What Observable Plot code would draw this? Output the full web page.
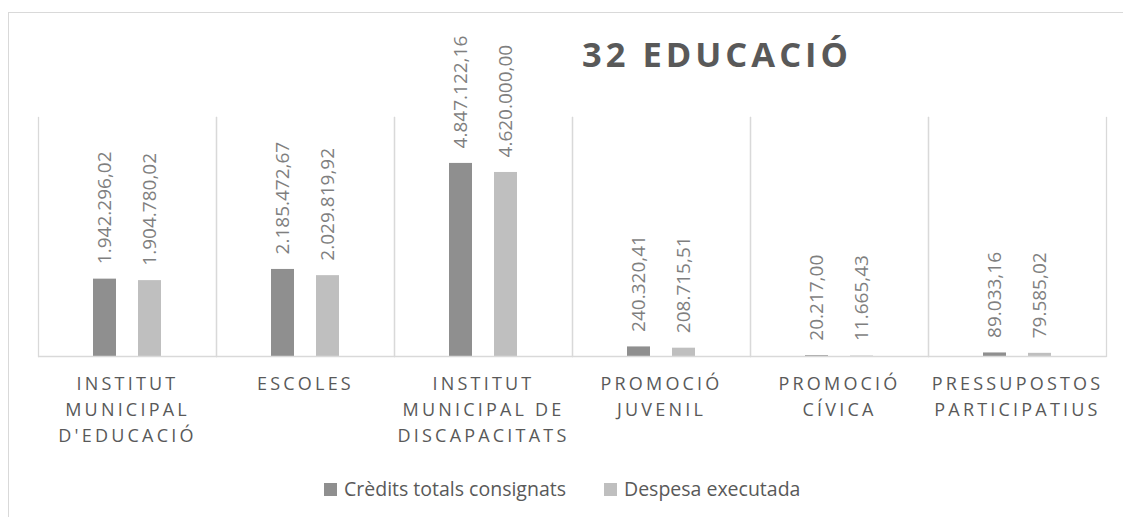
<!DOCTYPE html>
<html>
<head>
<meta charset="utf-8">
<script src="https://cdn.jsdelivr.net/npm/d3@7"></script>
<script src="https://cdn.jsdelivr.net/npm/@observablehq/plot@0.6"></script>
<style>
  html, body { margin: 0; padding: 0; background: #fff; overflow: hidden; }
  body { width: 1123px; height: 517px; position: relative; font-family: "Open Sans", sans-serif; }
  #frameTop { position: absolute; left: 8px; top: 12px; width: 1115px; height: 0;
              border-top: 1.3px solid #d9d9d9; }
  #frameLeft { position: absolute; left: 8px; top: 12px; width: 0; height: 505px;
               border-left: 1.3px solid #d9d9d9; }
  #cover { position: absolute; left: 1110px; top: 14px; width: 13px; height: 503px;
           background: #fff; z-index: 10; }
  #title { position: absolute; left: 582px; top: 37px; font-size: 34.5px; line-height: 1;
           font-weight: 700; letter-spacing: 4px; color: #595959; white-space: nowrap; }
  #chart { position: absolute; left: 0; top: 0; }
  #legend { position: absolute; left: 324px; top: 479px; display: flex; align-items: center;
            gap: 38px; font-size: 19.5px; line-height: 20px; color: #595959; white-space: nowrap; }
  #legend .item { display: flex; align-items: center; gap: 7px; }
  #legend .sw { width: 13px; height: 13px; display: inline-block; }
</style>
</head>
<body>
<div id="frameTop"></div>
<div id="frameLeft"></div>
<div id="title"></div>
<div id="chart"></div>
<div id="legend"></div>
<div id="cover"></div>
<script>
// ---- data ----
const titleText = "32 EDUCACIÓ";
const categories = ["Institut Municipal d'Educació", "Escoles", "Institut Municipal de Discapacitats",
                    "Promoció Juvenil", "Promoció Cívica", "Pressupostos Participatius"];
const tickLabels = ["INSTITUT\nMUNICIPAL\nD'EDUCACIÓ", "ESCOLES", "INSTITUT\nMUNICIPAL DE\nDISCAPACITATS",
                    "PROMOCIÓ\nJUVENIL", "PROMOCIÓ\nCÍVICA", "PRESSUPOSTOS\nPARTICIPATIUS"];
const seriesNames = ["Crèdits totals consignats", "Despesa executada"];
const credits = [1942296.02, 2185472.67, 4847122.16, 240320.41, 20217.00, 89033.16];
const spent   = [1904780.02, 2029819.92, 4620000.00, 208715.51, 11665.43, 79585.02];
const seriesColors = ["#8f8f8f", "#bfbfbf"];

const table = categories.flatMap((c, i) => [
  {cat: c, series: seriesNames[0], value: credits[i]},
  {cat: c, series: seriesNames[1], value: spent[i]}
]);

const fmt = d3.formatLocale({decimal: ",", thousands: ".", grouping: [3], currency: ["", ""]}).format(",.2f");

document.getElementById("title").textContent = titleText;

const plot = Plot.plot({
  width: 1123,
  height: 460,
  marginTop: 117,
  marginBottom: 104,
  marginLeft: 37,
  marginRight: 16,
  style: {fontFamily: "'Open Sans', sans-serif", background: "transparent", overflow: "visible"},
  fx: {domain: categories, paddingInner: 0, paddingOuter: 0, label: null},
  x: {domain: seriesNames, paddingInner: 0.4783, paddingOuter: 1.177, axis: null},
  y: {domain: [0, 6000000], axis: null},
  color: {domain: seriesNames, range: seriesColors},
  marks: [
    Plot.frame({anchor: "left", stroke: "#d9d9d9", strokeWidth: 1.3}),
    Plot.frame({anchor: "right", stroke: "#d9d9d9", strokeWidth: 1.3}),
    Plot.barY(table, {fx: "cat", x: "series", y: "value", fill: "series"}),
    Plot.ruleY([0], {stroke: "#d9d9d9", strokeWidth: 1.3}),
    Plot.text(table, {fx: "cat", x: "series", y: "value", text: d => fmt(d.value),
      rotate: -90, textAnchor: "start", dy: -15, fill: "#7f7f7f", fontSize: 19}),
    Plot.axisFx({anchor: "bottom", tickSize: 0, tickPadding: 15, fontSize: 18, lineHeight: 1.45,
      label: null, fill: "#595959",
      tickFormat: c => tickLabels[categories.indexOf(c)]})
  ]
});
document.getElementById("chart").appendChild(plot);
d3.select(plot).selectAll('g[aria-label="fx-axis tick label"] text').style("letter-spacing", "3.2px");

const legend = d3.select("#legend");
seriesNames.forEach((s, i) => {
  const it = legend.append("div").attr("class", "item");
  it.append("span").attr("class", "sw").style("background", seriesColors[i]);
  it.append("span").text(s);
});
</script>
</body>
</html>
